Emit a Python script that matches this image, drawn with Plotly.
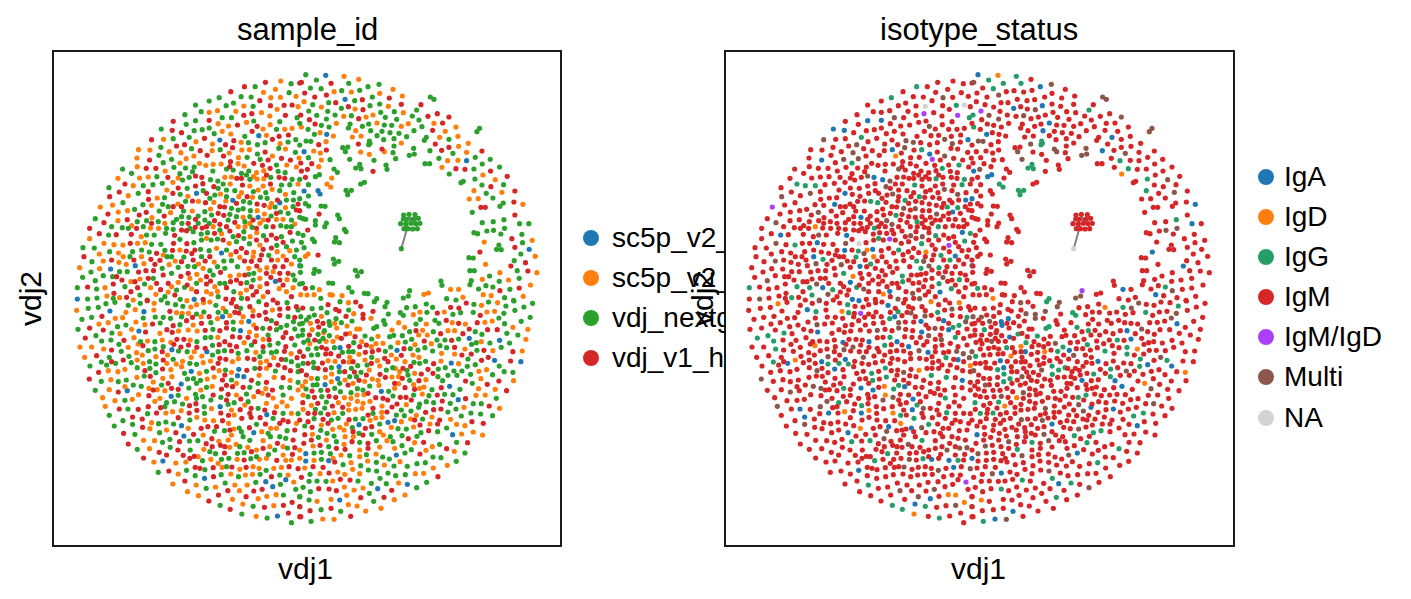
import numpy as np
import plotly.graph_objects as go

SAMPLES = ["sc5p_v2_hs_PBMC_10k_b", "sc5p_v2_hs_PBMC_1k_b", "vdj_nextgem_hs_pbmc3_b", "vdj_v1_hs_pbmc3_b"]
SAMPLE_COLORS = ["#1f77b4", "#ff7f0e", "#2ca02c", "#d62728"]
ISOTYPES = ["IgA", "IgD", "IgG", "IgM", "IgM/IgD", "Multi", "NA"]
ISOTYPE_COLORS = ["#1f77b4", "#ff7f0e", "#279e68", "#d62728", "#aa40fc", "#8c564b", "#d3d3d3"]

# Embedding values are grouped into four blocks; each entry is x, y, sample code
# (0-3 as in SAMPLES) with x and y in thirds of an embedding unit from the block origin.
upper_right = [
18,44,2,78,46,0,133,49,1,177,58,1,50,60,2,5,67,3,94,70,3,147,70,2,205,80,2,238,73,2,32,84,2,64,86,2,126,92,2,155,96,1,180,91,2,103,95,1,280,88,1,240,100,1,15,99,3,45,111,3,80,105,3,218,111,2,269,114,3,308,108,1,392,111,2,403,118,2,13,125,1,39,134,2,87,128,2,108,128,3,136,118,0,165,122,2,188,119,3,240,132,2,65,141,1,125,145,2,146,140,3,190,149,3,211,137,2,266,139,1,305,133,3,364,134,3,3,165,3,27,153,2,51,166,2,84,154,2,106,165,2,166,147,1,155,167,2,199,171,1,220,165,1,243,157,2,284,155,2,311,158,1,351,150,2,338,168,2,385,169,3,413,161,3,448,171,3,29,179,3,80,177,2,132,169,1,177,176,3,257,172,2,291,178,2,358,180,2,5,201,1,46,192,3,65,196,2,110,190,1,151,192,2,146,204,2,188,199,2,207,192,2,232,189,1,254,195,2,276,196,2,305,199,1,326,191,1,367,200,2,403,190,1,429,189,3,469,201,1,25,208,2,88,201,2,44,223,2,61,218,1,81,223,0,101,228,1,168,212,1,213,212,2,247,214,2,271,218,2,298,220,2,343,212,2,399,211,3,437,214,1,540,205,2,532,215,2,158,231,1,184,228,1,232,227,2,252,239,2,283,236,2,321,230,2,380,232,2,374,241,2,420,232,1,448,238,2,475,229,1,19,243,2,33,244,2,79,245,1,209,243,2,211,250,2,207,254,2,305,249,1,176,252,3,57,254,3,283,258,2,342,265,2,407,252,3,448,262,3,477,259,1,506,250,1,13,275,0,42,273,1,62,279,1,80,270,3,129,263,2,144,261,2,137,275,2,183,276,1,247,267,3,254,275,1,280,278,2,391,272,2,426,271,3,460,280,2,501,277,1,547,273,3,209,283,1,26,293,2,65,300,1,91,299,2,150,298,2,223,301,2,288,296,2,329,286,2,344,282,2,418,295,2,444,302,1,475,301,1,501,302,0,527,292,2,572,298,2,3,309,3,36,311,3,57,320,1,180,313,2,168,324,2,184,326,2,259,315,2,262,328,2,376,311,2,390,311,2,548,312,2,600,321,2,5,333,3,23,328,3,103,327,2,113,337,2,220,334,3,427,322,1,469,326,3,496,328,3,523,327,2,573,333,3,17,352,3,47,350,2,59,344,2,96,354,1,449,342,2,550,345,1,623,349,3,0,358,2,526,357,2,587,359,1,183,372,2,194,367,2,82,372,1,93,381,1,26,374,2,484,368,2,491,364,2,547,375,2,612,374,2,574,380,3,139,391,2,155,391,2,144,404,2,55,392,0,61,402,0,13,393,0,523,392,1,560,400,2,607,397,1,646,393,3,26,408,2,509,417,1,536,416,1,580,414,2,643,426,3,670,433,1,17,431,2,27,438,2,64,438,2,76,439,2,544,442,3,557,442,3,611,429,2,601,439,2,518,457,2,58,462,3,114,465,2,119,476,2,646,465,3,0,452,3,10,476,2,18,478,2,
312,465,2,328,463,2,346,464,2,356,475,2,340,478,2,322,478,2,311,477,2,303,491,2,319,492,2,334,490,2,348,491,2,361,490,2,313,506,2,325,506,2,339,507,2,353,506,2,305,566,2,
47,482,2,47,495,2,80,489,2,75,500,2,548,488,2,581,485,2,613,479,2,660,491,2,688,491,2,134,508,2,139,515,2,562,513,2,582,511,2,615,505,2,24,510,3,10,526,2,523,518,2,534,521,2,604,522,2,667,523,2,108,533,2,38,537,2,44,545,2,104,546,2,119,548,2,554,546,1,637,536,3,698,541,1,669,548,2,5,547,2,13,563,2,591,568,2,598,555,2,605,569,2,646,562,3,689,568,0,541,576,3,664,582,2,17,589,1,25,582,1,55,585,3,707,589,1,508,593,2,521,594,2,101,597,2,117,604,2,104,612,2,644,602,2,558,613,1,678,608,3,634,618,3,3,618,2,45,628,2,58,634,2,42,640,2,167,631,2,185,635,2,173,648,2,511,632,2,524,632,2,601,638,1,653,632,2,685,633,3,712,638,1,2,637,2,570,648,2,548,658,1,627,660,1,424,663,2,427,676,2,515,662,2,511,674,2,599,664,2,659,655,2,87,669,2,99,670,2,8,670,2,559,677,2,580,681,2,693,675,1,17,685,3,38,683,2,147,683,2,157,696,2,453,688,1,477,688,1,537,687,2,601,692,3,631,688,2,659,684,3,59,689,1,330,692,2,194,700,2,205,701,2,91,704,1,98,705,1,127,707,1,3,704,1,22,705,1,43,704,1,386,699,1,373,703,1,326,708,2,311,714,2,490,712,1,551,704,1,575,707,1,615,713,2,671,709,1,63,715,2,231,716,2,441,716,2,642,721,2,469,720,2,
]

upper_left = [
693,63,1,647,67,3,724,71,2,750,69,3,584,80,3,616,80,2,677,88,1,543,95,3,641,97,1,718,98,2,574,110,2,604,111,2,663,113,1,692,112,1,739,109,1,508,113,2,478,123,2,630,122,3,551,129,2,529,137,2,437,135,2,582,138,1,610,139,2,662,137,3,703,136,3,727,135,3,745,140,1,454,155,2,478,157,1,503,152,1,558,154,1,682,148,1,606,161,3,635,158,1,660,168,1,707,166,3,742,173,2,405,164,2,517,173,2,545,173,2,582,166,3,
370,184,3,437,182,2,478,181,3,409,193,2,505,191,1,536,198,1,563,195,3,590,187,1,612,183,2,661,194,1,690,185,2,727,205,1,750,190,2,334,207,2,367,211,3,395,218,3,433,212,2,457,209,2,478,204,2,517,214,1,543,222,1,585,229,2,607,214,3,622,199,3,640,207,1,680,208,2,705,208,1,627,227,0,650,226,1,668,238,3,688,229,3,716,225,3,738,239,2,493,221,2,305,239,3,341,238,1,370,236,2,418,232,2,438,245,1,464,235,3,510,240,0,552,242,3,574,247,1,596,248,2,623,254,2,646,248,2,691,251,1,715,246,2,750,255,2,404,254,3,380,258,3,333,262,2,527,254,3,488,252,1,
266,269,1,300,270,1,358,275,1,393,278,1,425,266,2,451,272,3,487,272,1,511,269,2,538,279,1,548,263,3,576,270,1,599,269,1,623,282,2,646,276,3,668,288,1,687,265,2,707,267,1,737,277,2,261,294,1,327,286,2,299,300,3,365,298,2,409,296,1,432,288,1,472,286,3,521,288,3,542,305,3,566,293,1,592,292,2,612,310,3,631,298,2,655,300,3,695,295,3,722,300,3,748,294,1,262,320,1,340,308,2,390,309,1,218,327,2,289,325,3,318,325,3,372,322,2,407,324,2,433,321,2,449,310,1,468,316,1,490,313,1,514,312,1,540,320,3,565,311,1,583,318,1,638,316,3,661,325,3,680,315,2,711,315,1,740,321,1,245,340,2,346,333,1,390,341,2,428,335,2,489,333,2,530,327,2,550,330,2,575,340,2,597,333,2,620,338,1,642,332,1,685,334,2,706,338,2,
204,355,1,269,354,1,295,351,1,321,350,2,354,352,3,385,354,1,418,352,2,437,348,3,456,352,3,482,359,2,504,363,2,525,352,1,545,351,1,561,355,3,590,345,2,642,356,1,663,352,2,688,352,3,727,358,2,225,372,3,250,377,1,280,377,2,309,374,2,337,370,2,369,367,1,398,360,2,412,385,2,437,378,3,459,371,3,492,380,3,520,372,2,541,372,1,578,375,3,600,378,1,622,357,1,640,378,1,662,372,3,695,375,2,720,374,2,745,372,1,177,383,2,208,396,3,265,400,2,295,395,3,351,390,1,385,384,3,440,400,0,460,392,2,512,402,1,530,390,2,555,392,2,575,398,1,611,395,2,625,390,1,648,398,2,667,388,1,690,392,2,707,403,1,732,398,2,
179,410,3,235,407,1,296,418,3,322,414,1,344,413,2,369,400,3,391,403,2,414,409,1,467,428,3,480,415,2,549,421,0,567,410,1,592,410,3,608,412,1,632,412,2,652,415,2,683,420,3,690,428,0,710,420,2,731,420,2,750,416,2,219,428,2,188,435,1,254,448,2,279,434,2,305,436,1,338,433,2,384,432,1,407,424,2,428,423,3,446,424,1,492,427,1,528,423,1,510,440,3,581,424,2,600,428,2,622,432,3,643,436,3,665,430,1,676,441,2,707,443,1,730,440,2,151,441,1,174,462,3,205,456,1,233,452,1,268,465,3,289,457,3,328,453,2,355,440,2,362,458,1,401,453,2,427,453,1,445,468,2,465,455,2,482,447,1,524,441,3,545,445,2,565,450,2,580,446,2,602,452,2,622,452,1,644,462,1,660,442,1,692,456,2,715,460,2,740,450,3,
136,476,2,162,488,3,204,482,1,232,479,3,262,485,2,306,473,1,343,468,3,380,478,2,417,472,2,395,470,2,437,478,3,465,480,2,494,482,3,522,466,3,540,463,2,560,470,2,580,472,1,600,470,2,625,472,0,664,468,2,680,478,1,700,478,1,725,480,2,750,472,2,119,505,3,185,500,2,217,503,2,245,497,1,290,482,2,302,504,1,326,505,1,350,505,2,370,488,2,396,490,2,415,490,3,436,502,3,457,504,3,478,490,2,510,493,3,530,500,3,565,500,1,586,500,1,607,502,2,630,490,1,649,500,2,670,500,3,693,497,2,710,500,2,735,492,1,148,521,3,176,525,2,199,524,3,244,523,3,274,530,1,290,525,2,313,525,2,347,520,2,374,526,3,410,512,3,430,515,2,454,522,2,473,518,2,494,520,3,515,521,1,540,513,3,566,527,3,582,515,2,601,530,1,621,518,1,641,527,2,665,525,3,695,530,2,721,517,3,745,520,2,
119,536,1,162,550,1,192,554,1,219,555,1,241,550,3,263,550,1,286,548,1,305,553,2,333,553,2,371,550,3,390,538,2,411,551,3,432,548,2,455,540,2,484,540,2,503,537,2,538,550,1,560,545,2,582,535,2,599,551,2,620,540,3,650,540,3,665,564,3,681,556,2,700,547,3,728,543,2,99,563,2,133,564,2,179,575,2,206,579,1,248,575,2,275,570,2,298,576,2,320,580,3,345,571,2,368,571,3,390,570,1,409,573,3,426,581,3,452,568,2,478,572,2,530,570,2,559,575,3,575,565,3,590,578,3,612,576,1,640,568,3,657,586,2,682,575,1,720,572,1,740,570,2,
102,590,3,148,582,1,185,600,3,207,607,1,229,613,1,275,590,1,252,600,3,303,598,3,330,601,3,352,590,2,376,603,1,402,591,2,430,600,3,446,612,1,466,603,3,493,606,1,515,579,0,543,584,1,522,603,2,545,602,2,570,592,1,584,603,3,605,604,3,630,600,3,684,600,1,700,588,1,725,612,1,750,600,2,126,605,2,160,603,1,89,623,1,149,626,1,182,627,0,209,635,2,232,635,2,256,617,0,282,611,1,315,613,3,337,625,2,358,614,1,385,622,2,414,619,2,434,620,2,460,625,1,480,632,2,503,620,2,525,625,2,563,620,2,597,625,1,621,618,3,651,623,1,675,620,3,700,620,3,750,617,0,
123,636,2,98,652,2,160,647,2,188,650,2,216,660,3,266,636,3,288,632,3,311,632,3,340,645,3,365,640,2,393,649,3,420,655,1,441,643,1,470,650,3,490,645,2,512,637,3,541,648,1,568,645,1,597,643,2,612,640,2,630,655,1,663,652,3,690,640,3,712,659,1,730,645,2,136,662,2,82,683,2,113,681,3,140,687,2,165,683,1,190,672,3,243,665,1,270,657,1,295,655,3,284,672,2,320,670,3,355,670,3,385,667,1,404,682,2,425,687,1,452,660,1,482,663,3,510,670,2,542,665,3,573,670,3,591,668,2,651,671,3,677,664,0,700,675,3,730,683,1,750,672,2,
192,700,3,243,695,3,263,683,3,302,683,1,332,689,3,355,696,1,380,690,2,412,675,3,440,695,3,470,695,1,503,694,1,530,683,3,552,695,2,572,700,1,590,690,1,620,695,3,654,696,3,688,686,1,710,695,1,82,717,0,113,717,2,141,714,2,171,708,1,209,713,1,230,712,3,270,705,2,292,720,2,318,703,1,345,710,2,391,718,2,433,718,0,411,722,1,460,718,3,484,702,1,528,717,3,550,718,3,593,716,3,670,720,3,725,710,3,
]

lower_left = [
115,25,2,145,22,2,168,11,2,195,7,2,235,16,2,271,10,2,292,2,3,313,10,1,334,0,2,353,9,2,377,14,2,399,19,2,423,21,1,440,14,1,461,8,1,480,6,1,498,16,2,520,25,1,545,9,3,572,25,2,600,20,3,627,5,2,650,14,3,683,9,3,712,8,2,740,20,3,80,31,1,180,33,0,228,37,1,256,29,1,282,35,0,312,30,1,360,34,3,380,38,1,397,40,1,416,40,1,440,42,2,462,36,2,505,37,2,528,35,2,555,37,3,610,32,1,647,37,3,668,30,1,690,27,3,715,25,3,745,30,2,
96,58,2,125,52,2,156,49,3,196,55,1,218,53,1,280,54,2,316,51,2,340,52,2,362,55,2,395,50,2,410,62,3,428,52,3,454,50,1,478,50,3,503,56,1,518,50,0,540,47,1,567,39,3,609,48,3,628,46,3,650,57,3,690,46,3,715,50,2,735,52,3,147,72,1,175,68,1,203,80,2,228,75,2,258,66,1,285,74,1,308,72,3,331,69,2,370,77,3,390,74,2,430,75,1,455,70,3,483,68,2,530,68,3,550,66,2,575,66,1,597,64,0,612,75,1,639,85,2,665,62,2,693,82,2,711,76,2,731,65,2,750,72,2,
84,88,2,119,84,3,160,90,3,186,99,2,210,101,1,245,88,1,267,93,0,287,96,3,330,100,1,351,89,3,367,97,3,386,93,1,415,90,1,442,93,1,466,91,3,489,88,2,510,92,3,530,84,3,551,88,2,572,92,0,599,96,1,620,107,1,655,105,2,680,89,2,708,98,3,735,87,2,106,114,3,138,107,2,155,123,2,183,120,2,222,121,3,252,113,1,272,125,2,293,123,1,315,125,2,337,120,1,363,127,1,381,118,3,402,118,3,421,120,1,441,125,2,466,113,2,483,112,2,504,112,1,525,125,3,548,110,3,570,112,3,595,112,3,640,118,1,658,119,3,700,112,3,725,115,3,745,108,2,
90,141,1,125,141,1,161,147,1,185,150,3,207,133,2,235,142,1,265,132,1,279,137,3,315,147,2,340,140,2,372,133,3,393,141,3,416,135,3,441,142,3,466,145,3,488,136,2,508,134,3,540,135,3,560,140,3,583,128,1,605,135,2,685,130,2,708,140,3,735,135,2,104,172,1,140,167,3,178,172,2,214,154,2,237,169,2,260,158,1,277,165,1,295,152,2,318,170,1,337,155,3,353,165,1,366,149,0,386,153,2,412,155,2,433,155,1,456,168,1,471,155,0,488,165,2,524,152,2,545,153,3,565,160,2,591,152,2,618,157,1,640,155,2,665,158,2,704,154,3,724,161,1,742,173,3,
154,186,2,120,198,2,197,190,2,244,188,2,225,208,1,262,203,2,299,185,2,318,192,2,351,190,1,379,192,1,398,184,1,424,172,1,440,193,2,460,188,1,482,183,1,510,175,3,528,178,3,548,185,1,566,176,1,593,175,3,613,178,3,632,188,1,650,183,1,672,173,1,695,178,3,708,179,2,745,197,2,175,212,1,146,217,3,204,215,1,285,212,3,318,218,2,338,207,3,363,209,1,404,220,2,424,214,0,449,220,1,470,214,2,490,204,3,508,212,1,527,210,2,545,217,1,567,208,0,591,211,3,615,205,2,650,205,1,677,213,2,705,203,3,722,212,3,745,215,2,
118,237,3,154,244,2,183,239,1,229,240,2,261,232,1,283,228,2,301,229,3,310,246,1,339,235,1,366,230,1,394,252,0,413,237,2,431,236,2,452,241,2,472,237,1,493,231,1,518,240,3,563,227,0,582,230,0,605,241,3,628,226,1,650,247,3,673,232,1,700,233,3,721,241,1,745,247,2,136,271,2,178,269,1,205,276,3,232,272,0,274,259,2,297,265,1,322,269,1,345,272,1,365,265,3,385,268,3,417,264,2,453,270,1,470,262,2,487,259,1,515,267,3,530,256,3,548,260,3,580,262,3,600,262,2,648,266,1,668,270,3,695,262,2,720,263,2,745,270,1,
158,293,1,195,302,1,225,301,2,247,298,1,266,284,1,297,287,3,330,295,1,364,289,0,385,286,2,437,283,2,483,300,2,458,290,2,513,292,2,535,283,3,560,285,1,573,297,3,590,282,2,612,290,1,637,280,1,670,294,1,700,285,2,725,295,1,166,319,1,208,327,3,234,327,2,265,328,3,295,320,3,315,304,1,332,323,3,350,308,2,374,305,2,398,312,2,419,317,3,438,311,3,463,320,2,511,320,0,535,313,2,553,308,2,585,315,1,604,325,3,650,310,1,697,306,1,712,318,1,
178,346,2,248,351,3,277,357,3,293,341,2,320,339,3,348,339,1,368,335,1,394,332,1,418,339,3,441,331,3,464,340,2,485,326,1,513,339,3,536,346,3,553,345,1,576,355,3,571,329,3,604,352,3,631,353,3,651,344,0,674,338,3,700,340,2,725,340,1,745,341,2,219,362,2,193,378,2,248,373,2,305,368,1,326,371,2,348,366,2,385,353,3,371,372,2,395,377,0,415,385,1,441,352,1,454,385,3,474,380,3,491,362,1,518,362,3,536,370,1,552,387,1,568,384,2,599,383,3,620,373,2,647,372,3,663,385,1,690,370,3,715,365,3,740,370,1,
221,400,3,255,403,2,278,382,3,300,386,1,329,398,2,350,390,1,378,398,3,402,408,0,431,403,3,460,405,1,494,394,2,524,392,2,545,405,1,575,395,2,612,398,0,636,395,1,655,400,2,680,385,1,712,392,2,735,390,3,235,432,3,281,421,1,314,422,1,338,427,2,360,418,2,389,425,3,419,423,2,444,422,2,469,431,3,486,416,3,507,424,1,535,420,1,559,433,1,580,410,2,600,421,2,640,422,1,662,410,2,683,430,3,708,415,2,713,444,2,735,443,3,
262,448,2,299,446,1,328,457,3,361,442,2,384,450,3,421,450,2,462,448,1,487,440,3,512,436,3,524,459,3,540,442,1,563,460,2,583,458,2,594,442,1,620,450,1,656,463,2,675,450,2,700,465,1,728,463,3,750,475,1,281,474,3,312,486,1,339,483,0,378,489,1,400,466,3,408,486,1,433,469,3,458,482,2,483,478,1,497,461,2,515,478,2,537,475,2,562,478,1,583,480,3,603,476,2,629,478,1,650,475,1,681,481,3,708,481,1,725,480,1,
325,517,2,357,513,3,385,522,1,410,511,2,436,502,3,465,509,2,490,503,3,517,502,1,546,501,3,570,508,1,589,502,3,610,500,1,628,505,1,649,511,2,672,505,1,695,502,1,718,500,3,745,506,3,436,527,2,464,535,0,491,530,3,514,524,2,543,522,1,566,530,2,587,525,1,608,523,1,631,523,2,665,530,3,690,525,2,715,525,1,369,552,1,405,543,3,439,555,1,469,565,2,497,561,1,526,549,2,555,555,1,592,555,1,618,547,2,648,545,0,669,560,0,692,553,2,708,539,0,732,546,1,738,568,2,
413,575,1,446,587,1,534,572,3,506,585,3,569,572,1,612,573,3,637,568,3,589,590,3,679,584,1,701,585,2,727,607,3,750,590,2,477,603,3,548,598,1,625,596,1,651,589,1,579,612,1,511,616,2,610,619,2,644,622,3,672,617,1,701,616,3,750,620,3,541,628,3,576,642,2,619,649,1,652,654,2,683,648,0,716,639,3,750,650,3,725,668,2,
]

lower_right = [
9,24,3,37,26,2,64,24,2,85,14,3,121,5,2,146,8,1,168,6,3,183,19,3,224,5,2,262,7,2,256,20,2,321,23,2,347,20,2,380,12,2,399,22,2,453,22,3,478,24,3,500,9,3,523,13,2,546,16,1,567,6,2,594,8,1,619,18,2,673,21,2,699,10,2,643,3,2,3,50,2,28,51,2,44,45,2,65,49,1,82,38,2,108,28,3,118,33,3,147,30,2,162,41,1,190,43,3,190,55,3,220,34,3,266,42,2,302,38,2,311,46,2,341,44,1,361,36,1,382,37,2,413,39,3,434,36,1,460,43,2,483,38,2,521,37,2,542,46,3,562,36,1,585,34,1,613,40,2,646,31,2,598,54,2,692,52,2,
8,70,2,32,70,1,53,64,3,88,65,2,90,76,2,109,56,2,125,68,2,139,49,3,157,63,2,214,55,1,252,62,2,256,73,2,297,68,1,349,72,2,362,58,2,380,72,1,406,61,2,418,70,2,440,61,3,458,68,1,477,70,3,497,72,1,533,68,3,556,67,1,578,63,1,615,71,2,640,82,1,665,64,2,9,90,2,37,89,1,57,81,3,74,92,2,142,78,1,111,84,1,171,87,1,180,87,1,231,80,2,222,85,2,277,90,1,315,82,1,330,95,2,349,92,3,369,91,1,401,95,2,423,101,3,445,92,1,465,92,1,490,101,3,509,87,3,527,95,2,547,103,2,564,89,3,593,89,3,622,100,2,655,105,2,685,88,1,
8,105,2,29,105,3,55,103,2,72,98,1,89,107,2,113,111,1,138,102,3,166,110,3,196,108,2,235,109,1,270,110,2,282,106,2,308,107,2,336,118,2,357,105,1,383,105,1,412,120,2,436,120,2,456,121,3,477,117,2,509,115,0,530,128,2,545,125,1,571,129,2,600,121,0,630,129,2,679,118,1,12,127,2,30,131,1,59,124,2,79,124,1,100,124,1,121,143,0,147,139,3,162,128,2,186,125,1,216,117,2,229,131,1,250,130,1,295,128,1,317,126,2,374,123,3,395,131,1,346,134,1,421,137,2,441,143,2,465,142,3,496,147,1,516,133,2,
0,155,3,25,147,2,50,145,2,66,142,3,80,147,3,104,143,2,147,155,2,160,155,2,197,157,3,218,155,3,237,150,3,257,154,2,273,141,2,292,151,0,313,146,3,332,146,2,355,150,2,376,143,2,399,153,2,426,160,1,465,162,1,487,165,3,515,162,3,532,151,2,553,151,3,580,152,1,605,142,2,640,155,3,668,153,1,11,169,3,35,165,2,54,164,2,78,162,3,93,161,3,117,168,3,128,157,2,150,172,1,178,163,1,216,172,2,196,180,1,233,182,1,265,185,3,290,177,1,305,166,3,316,185,1,343,187,2,358,172,1,378,184,2,402,191,3,424,183,1,455,189,0,477,191,1,505,177,2,527,194,2,546,181,3,566,172,3,585,181,0,633,183,3,664,185,0,
41,187,2,68,189,3,85,182,1,106,184,1,131,185,3,148,186,1,174,197,2,202,195,2,240,198,1,287,205,1,333,199,3,360,190,2,416,207,2,437,203,2,463,213,2,487,213,2,503,199,2,538,214,1,561,209,1,599,198,2,614,215,2,640,217,2,5,212,3,42,203,2,77,209,3,95,203,2,118,200,0,155,205,2,184,217,2,209,210,1,260,210,2,279,203,2,300,215,1,322,211,2,345,220,1,365,222,3,385,208,3,415,230,2,445,226,2,472,226,2,513,223,2,579,224,2,
17,245,1,35,235,1,53,236,2,77,232,1,96,222,1,114,236,0,119,215,2,150,230,2,164,216,3,178,241,3,195,244,1,218,237,1,241,223,3,257,232,3,277,231,1,297,230,1,308,235,3,330,241,2,358,242,3,379,239,1,429,242,2,498,243,3,544,236,1,598,243,3,642,242,1,8,258,1,19,267,2,37,273,3,52,254,2,76,254,0,95,245,1,120,250,2,136,240,1,154,278,2,173,266,2,190,270,2,210,258,2,235,241,1,238,256,1,267,274,2,297,251,1,316,263,3,342,254,1,373,261,1,397,269,2,425,263,3,450,259,0,481,268,2,518,250,2,537,266,1,563,253,3,587,268,1,621,272,3,
10,285,1,44,292,3,63,271,2,66,290,2,84,271,3,88,289,3,108,292,3,122,275,2,134,293,1,154,295,1,172,285,1,193,284,1,228,293,3,245,274,0,280,288,2,302,292,3,319,292,3,342,285,2,368,282,1,388,287,2,413,285,3,435,283,2,460,284,2,476,299,0,498,296,3,529,286,1,557,285,1,590,295,2,9,308,3,35,316,1,54,310,3,80,306,2,98,318,3,116,308,1,129,322,3,147,313,1,173,304,1,211,304,1,220,325,3,247,318,1,264,300,3,292,312,3,320,314,1,277,321,3,360,312,2,402,308,2,428,303,3,452,310,2,521,311,2,545,311,2,569,318,3,600,325,1,
10,328,1,25,340,3,47,328,2,63,339,2,75,324,2,85,343,3,103,338,1,129,340,2,147,330,1,168,328,1,187,325,1,220,340,2,246,337,1,262,336,3,305,330,2,334,333,2,350,346,1,357,322,2,378,337,3,402,329,3,424,327,3,445,336,2,469,327,2,493,322,1,514,339,2,543,342,2,579,347,2,0,360,3,43,356,2,70,358,3,95,360,2,115,355,2,148,359,3,167,357,2,190,356,2,211,361,1,228,354,1,247,352,1,265,367,0,285,362,0,314,347,2,333,357,1,369,357,2,397,351,1,453,358,1,485,348,2,517,365,3,551,370,3,
15,378,2,37,382,3,63,391,2,99,388,1,120,382,1,140,372,1,158,383,2,178,374,0,197,385,3,216,380,3,240,372,2,275,382,1,295,386,2,320,387,2,342,381,1,361,375,3,391,372,1,414,372,3,441,384,2,471,373,1,496,377,1,521,396,1,15,404,3,38,403,1,56,412,2,82,400,2,103,408,2,133,390,1,136,410,1,161,410,1,178,400,2,216,403,2,251,405,1,272,410,2,307,407,2,326,416,3,352,409,2,364,398,2,387,392,3,414,395,2,459,404,0,486,402,1,549,405,1,
12,430,3,40,438,1,61,436,3,87,440,2,110,445,3,133,433,1,157,425,3,180,427,2,205,430,3,230,422,2,240,441,1,262,422,1,285,445,1,307,437,2,345,428,1,372,427,3,398,440,1,420,433,2,441,446,3,471,427,2,504,428,3,0,450,1,18,461,0,43,459,2,65,457,2,92,461,2,124,465,1,136,448,3,150,467,2,180,450,1,200,464,2,229,462,1,249,471,2,269,477,2,290,465,0,316,459,2,335,449,2,361,462,3,379,451,1,400,471,2,424,473,2,464,454,1,496,459,2,
18,483,0,43,481,1,65,478,2,87,482,0,105,486,3,130,494,2,154,488,1,183,497,2,204,483,1,230,487,2,254,495,1,283,498,2,301,485,1,323,499,2,352,491,2,377,488,2,443,496,1,470,484,2,5,532,3,15,504,1,31,523,2,70,502,3,61,521,1,88,519,3,114,516,1,135,523,1,159,508,1,180,521,1,206,510,2,231,513,2,265,519,2,288,527,2,317,524,2,347,521,1,372,520,1,401,504,1,415,530,3,
28,544,2,52,543,2,79,544,2,99,543,1,122,538,3,151,540,3,175,543,2,215,550,2,241,535,2,260,551,2,297,549,1,323,553,0,351,563,2,381,547,2,10,562,2,32,575,2,57,566,3,88,567,3,110,572,3,141,586,1,134,561,1,163,570,1,190,564,1,209,580,2,234,566,0,276,571,3,316,585,1,0,590,2,28,600,2,52,604,1,94,598,1,120,600,0,183,593,3,222,604,2,253,592,3,284,599,1,0,620,2,31,632,3,64,629,2,94,625,3,123,634,2,146,614,1,172,618,1,198,633,1,244,625,1,3,650,3,34,664,2,69,657,1,103,658,1,153,649,3,
]

# Further cells from the densest part of the embedding; entries that coincide with a listed cell are skipped.
upper_left_dense = [
575,355,3,600,358,2,611,350,1,650,345,3,705,355,3,745,350,3,470,375,1,505,385,2,530,410,2,560,430,3,520,405,3,495,405,2,470,400,3,412,432,2,370,440,3,395,440,3,505,460,3,485,465,2,600,490,1,620,505,3,655,480,3,680,460,3,700,440,2,720,440,2,745,432,3,725,500,2,660,515,2,640,480,1,610,480,3,585,485,2,555,487,3,535,480,2,510,510,2,490,500,1,470,500,3,445,490,2,420,505,2,395,510,3,370,508,2,345,490,1,325,485,2,305,490,3,280,500,2,260,505,3,235,505,2,
445,540,3,470,535,1,520,540,3,550,530,2,605,555,3,630,555,1,660,545,2,680,535,3,710,560,2,745,545,3,435,570,3,500,565,1,520,585,2,560,595,3,610,590,1,635,585,3,665,600,3,710,600,3,735,590,2,480,590,3,455,590,2,420,600,1,395,605,3,365,590,2,340,585,1,290,610,2,265,615,3,240,590,2,220,590,1,
505,640,3,530,645,2,585,645,3,650,640,3,670,635,1,715,640,3,745,625,3,735,660,2,690,660,3,630,630,1,610,660,2,585,665,1,560,660,3,525,670,2,495,680,1,470,672,3,440,670,2,415,640,3,395,680,3,365,680,1,345,690,3,310,655,2,255,665,3,225,680,2,200,650,3,630,680,1,605,680,3,570,690,3,640,710,1,610,705,3,575,715,2,505,710,2,440,720,1,375,705,3,250,720,1,190,715,2,
]
lower_left_dense = [
560,20,3,620,30,3,580,50,1,600,70,3,640,60,2,620,85,3,660,85,3,680,70,3,720,65,1,590,115,1,615,125,3,640,140,3,660,135,2,610,175,3,630,170,2,660,195,3,685,195,3,725,185,2,630,205,3,680,155,2,570,150,3,530,150,1,505,155,2,505,190,3,420,190,2,395,200,1,370,178,2,340,180,3,280,190,1,300,205,2,262,180,1,220,180,3,185,185,3,170,195,2,545,240,2,525,225,3,625,250,2,610,265,3,625,275,3,655,285,3,575,265,2,560,250,1,440,250,2,400,262,3,335,255,2,355,250,3,310,270,3,250,255,2,225,260,1,205,245,2,
490,285,3,510,315,1,530,300,3,545,330,1,595,305,2,625,325,2,645,330,3,680,320,1,670,355,2,700,360,3,720,345,1,600,340,3,440,295,2,410,295,1,345,320,2,375,350,3,420,360,2,465,360,1,500,380,3,540,390,3,590,405,1,620,395,3,660,350,2,640,400,3,690,410,2,730,420,3,700,440,1,660,440,1,620,470,2,640,445,3,605,455,3,570,440,2,525,440,3,455,425,2,410,430,2,370,420,1,350,465,3,445,470,1,480,455,2,505,490,1,600,495,1,530,500,2,420,475,3,450,505,3,
]
lower_right_dense = [
20,60,2,40,75,3,70,70,3,105,70,1,140,95,2,12,85,2,25,120,2,45,120,3,70,115,2,90,125,3,125,115,3,150,100,1,180,140,3,200,135,3,215,140,1,235,130,2,150,130,3,30,150,3,65,165,3,100,175,1,120,190,3,160,185,3,190,170,2,215,190,3,255,175,3,275,165,1,310,205,3,340,165,1,25,190,3,10,190,2,55,205,3,30,225,2,95,235,3,75,220,2,135,215,3,170,230,2,200,225,3,225,245,3,265,240,2,285,250,3,325,225,2,400,220,3,20,225,3,60,230,2,40,255,2,75,272,1,105,265,2,145,255,3,160,250,1,185,250,3,260,265,3,285,265,1,345,268,3,360,265,1,55,275,2,25,290,2,205,280,3,250,295,3,335,300,3,380,305,2,190,310,1,150,335,3,125,360,2,95,340,3,45,340,3,25,365,3,65,375,1,85,370,3,175,330,3,205,345,3,230,335,1,290,345,2,305,365,1,420,360,3,345,360,3,240,395,1,190,405,3,160,395,3,105,385,1,80,420,1,35,420,3,110,425,2,180,380,1,280,425,2,300,410,3,325,395,3,205,445,3,180,470,1,100,475,1,40,500,3,
]

# Cells carrying an isotype other than IgM, per block, as x, y pairs.
upper_left_isotypes = {
"IgG": [584,80,508,113,703,136,742,173,418,232,599,269,390,309,226,371,250,377,280,377,661,325,711,315,642,356,727,358,578,375,720,374,592,410,549,421,446,424,467,428,676,441,707,443,517,462,589,481,649,500,457,504,468,540,641,527,599,551,715,537,219,555,303,598,409,573,402,591,530,570,446,612,657,586,684,600,584,603,357,635,597,625,651,623,541,648,542,665,651,671,712,659,263,683,332,689,403,682,220,685,82,683,688,686,270,705,210,713],
"IgA": [437,182,478,181,334,207,367,211,737,239,511,269,623,282,299,300,457,351,482,359,369,400,338,433,731,420,692,456,417,472,176,524,374,526,721,517,286,548,368,571,452,568,275,590,700,588,414,619,385,667,302,683,503,694,654,696,391,718,411,722,750,416,750,617],
"IgD": [521,288,275,507,433,562,445,593,612,576,393,649,484,702],
"IgM/IgD": [606,161,707,166,631,298,151,441,503,537,681,556],
"Multi": [663,113,517,173,622,199,305,239,552,242,574,247,668,238,691,251,393,278,404,254,548,263,668,288,365,298,409,296,530,327,437,348,504,363,492,380,265,400,512,402,667,388,707,403,179,410,580,446,544,445,289,457,644,462,162,488,494,482,510,493,565,527,601,530,290,525,162,550,371,550,426,581,161,603,282,611,358,614,605,604,621,618,136,662,284,672,425,687,663,652,113,717,292,720,318,703,572,700,593,716,528,717],
"NA": [610,139,727,135,411,551],
}
upper_right_isotypes = {
"IgA": [18,44,205,80,125,145,211,137,232,189,213,212,44,223,420,232,391,272,47,350,59,344,670,433,660,491,541,576,634,618,453,688,550,704,0,333,0,416,0,617],
"IgD": [79,46,449,342,63,715],
"IgG": [133,49,50,60,94,70,147,70,64,86,351,150,3,165,5,201,209,243,211,250,207,254,180,313,168,324,184,326,444,302,469,326,526,357,523,392,82,372,93,381,139,391,155,391,144,404,613,479,0,507,17,685,580,681,231,716],
"IgM/IgD": [27,153,331,692],
"Multi": [5,67,238,73,80,105,392,111,403,118,155,167,190,149,51,166,80,177,448,171,540,205,532,215,19,243,33,244,176,252,248,267,254,275,343,265,344,282,330,286,138,275,150,298,460,280,23,328,587,359,607,397,615,505,582,511,602,692,311,714,326,708],
"NA": [305,566],
}
lower_left_isotypes = {
"IgD": [168,11,360,34,279,137,216,181,591,211,487,259,494,278,368,335,441,331,513,339,415,385,536,370,627,5,699,9,679,584,701,585,727,607,576,642,745,197],
"IgG": [294,21,377,15,380,38,528,35,503,56,647,37,735,52,693,82,711,76,138,107,106,114,186,99,155,123,161,147,504,112,488,136,692,108,154,186,318,192,351,190,379,192,449,220,490,204,452,241,493,231,628,226,673,232,365,265,515,267,530,256,670,294,350,308,419,317,585,315,536,346,576,355,674,338,620,373,389,425,444,422,600,421,497,461,458,482,603,476,708,481,439,555,511,616,541,628,610,619,652,654,672,173,750,620],
"IgA": [410,3,495,13,256,29,518,50,597,64,665,62,680,89,599,96,287,96,363,127,441,125,525,125,559,130,618,157,371,174,708,179,197,190,299,185,338,207,721,241,417,264,453,270,548,260,573,297,571,329,418,339,234,327,320,339,249,351,505,379,568,384,378,398,629,478,681,481,695,502,410,511,625,596,579,612,750,475],
"IgM/IgD": [416,40,732,546],
"Multi": [688,30,567,39,609,48,285,74,530,68,530,84,466,91,731,65,639,85,620,107,658,119,393,141,366,149,591,152,704,154,724,161,742,173,315,170,424,172,285,212,545,217,118,237,274,259,297,265,205,276,483,300,513,292,315,304,604,325,295,320,166,319,248,373,494,394,599,383,486,416,559,433,683,442,713,444,735,443,562,478,546,501,649,511,745,506,534,572,637,568,589,590,701,616],
}
lower_right_isotypes = {
"IgD": [399,22,147,139,219,154,117,168,496,147,134,293,99,318,518,250,640,217,28,600],
"IgA": [109,56,88,65,90,76,113,111,465,92,489,127,160,155,292,151,85,182,93,200,378,184,527,194,599,198,330,241,429,242,450,259,357,322,424,327,240,372,496,377,15,404,333,474,88,519,260,551,123,634,69,657,0,474,615,71],
"IgG": [619,18,224,5,453,22,521,37,302,38,311,46,231,80,222,85,315,82,349,92,37,89,196,108,144,117,162,128,436,120,345,134,465,142,102,143,273,141,257,154,400,153,465,162,505,177,11,169,586,181,503,199,241,198,261,210,279,203,77,209,97,222,416,207,241,223,365,222,415,230,113,236,96,244,333,276,319,292,80,306,9,308,63,339,25,340,485,348,514,339,364,398,387,392,307,407,180,427,345,428,136,448,441,446,377,488,241,535,151,540,88,567,297,549,253,592,34,664,0,620],
"Multi": [146,8,262,7,256,20,162,41,190,43,190,55,220,34,478,24,500,9,613,40,598,54,509,87,53,64,28,51,3,50,59,124,250,130,0,155,305,166,566,172,12,203,463,213,225,209,150,230,36,253,537,266,154,278,88,289,545,311,320,314,334,333,220,325,211,361,148,359,320,387,216,403,231,423,40,439,103,421,18,461,150,467,290,465,231,513,61,521,351,563,103,658],
}

# Links of the clonotype networks inside the central gap, block coordinates, x0,y0,x1,y1.
network_links = [305,566,322,506, 322,506,319,492, 303,491,361,490, 312,465,319,492, 328,463,334,490, 346,464,348,491, 313,506,353,506, 311,477,356,475, 139,391,147,396, 155,391,147,396, 144,404,147,396, 180,313,177,320, 168,324,177,320, 184,326,177,320, 167,631,175,637, 185,635,175,637, 173,648,175,637, 101,597,108,604, 117,604,108,604, 104,612,108,604, 45,628,48,634, 58,634,48,634, 42,640,48,634, 108,533,110,543, 104,546,110,543, 119,548,110,543]

BLOCKS = [(upper_left, upper_left_dense, upper_left_isotypes, 50, 60),
          (upper_right, [], upper_right_isotypes, 300, 60),
          (lower_left, lower_left_dense, lower_left_isotypes, 50, 300),
          (lower_right, lower_right_dense, lower_right_isotypes, 300, 300)]

WIDTH, HEIGHT = 1411, 599
X_LIM = [54, 560.5]
Y_LIM = [545, 52]
MIN_GAP = 4.0


def to_units(v, origin):
    return origin + np.asarray(v, dtype=float) / 3


xs, ys, codes = [], [], []
for block, _, _, x0, y0 in BLOCKS:
    arr = np.array(block).reshape(-1, 3)
    xs.append(to_units(arr[:, 0], x0))
    ys.append(to_units(arr[:, 1], y0))
    codes.append(arr[:, 2])
vdj1 = np.concatenate(xs)
vdj2 = np.concatenate(ys)
sample_code = np.concatenate(codes)

# Add the denser cells, leaving out any that would sit on top of an existing one.
for _, dense, _, x0, y0 in BLOCKS:
    if not dense:
        continue
    for px, py, code in np.array(dense).reshape(-1, 3):
        ux, uy = to_units(px, x0), to_units(py, y0)
        if np.min((vdj1 - ux) ** 2 + (vdj2 - uy) ** 2) >= MIN_GAP ** 2:
            vdj1 = np.append(vdj1, ux)
            vdj2 = np.append(vdj2, uy)
            sample_code = np.append(sample_code, code)

isotype_code = np.full(len(vdj1), ISOTYPES.index("IgM"))

# Each isotype entry tags the closest cell in the shared embedding.
for _, _, isotype_lists, x0, y0 in BLOCKS:
    for name, flat in isotype_lists.items():
        for px, py in np.array(flat).reshape(-1, 2):
            d = (vdj1 - to_units(px, x0)) ** 2 + (vdj2 - to_units(py, y0)) ** 2
            isotype_code[int(np.argmin(d))] = ISOTYPES.index(name)

links = np.array(network_links).reshape(-1, 4)
link_x, link_y = [], []
for a, b, c, d in links:
    link_x += [to_units(a, 300), to_units(c, 300), None]
    link_y += [to_units(b, 60), to_units(d, 60), None]

fig = go.Figure()


def px_dom_x(a, b):
    return [a / WIDTH, b / WIDTH]


def px_dom_y(top, bottom):
    return [1 - bottom / HEIGHT, 1 - top / HEIGHT]


FRAME = dict(showline=True, mirror=True, linecolor="#1a1a1a", linewidth=1.7, showticklabels=False,
             ticks="", showgrid=False, zeroline=False)
HIDDEN = dict(visible=False, showgrid=False, zeroline=False)
LABEL_FONT = dict(family="Liberation Sans, Arial, sans-serif", size=28, color="black")

fig.update_layout(
    width=WIDTH, height=HEIGHT, margin=dict(l=0, r=0, t=0, b=0), autosize=False,
    paper_bgcolor="white", plot_bgcolor="white", showlegend=False,
    xaxis=dict(domain=px_dom_x(54, 560), range=X_LIM, **FRAME),
    yaxis=dict(domain=px_dom_y(52, 545), range=Y_LIM, anchor="x", **FRAME),
    xaxis2=dict(domain=px_dom_x(726, 1232.5), range=X_LIM, **FRAME),
    yaxis2=dict(domain=px_dom_y(52, 545), range=Y_LIM, anchor="x2", **FRAME),
    xaxis3=dict(domain=px_dom_x(561, 725), range=[561, 725], **HIDDEN),
    yaxis3=dict(domain=px_dom_y(52, 545), range=Y_LIM, anchor="x3", **HIDDEN),
    xaxis4=dict(domain=px_dom_x(1234, 1411), range=[1234, 1411], **HIDDEN),
    yaxis4=dict(domain=px_dom_y(52, 545), range=Y_LIM, anchor="x4", **HIDDEN),
)

for xa, ya in (("x", "y"), ("x2", "y2")):
    fig.add_trace(go.Scatter(x=link_x, y=link_y, mode="lines", xaxis=xa, yaxis=ya,
                             line=dict(color="#808080", width=2), hoverinfo="skip"))

for i, name in enumerate(SAMPLES):
    m = sample_code == i
    fig.add_trace(go.Scatter(x=vdj1[m], y=vdj2[m], mode="markers", name=name, xaxis="x", yaxis="y",
                             marker=dict(color=SAMPLE_COLORS[i], size=5.2, line=dict(width=0))))
for i, name in enumerate(ISOTYPES):
    m = isotype_code == i
    fig.add_trace(go.Scatter(x=vdj1[m], y=vdj2[m], mode="markers", name=name, xaxis="x2", yaxis="y2",
                             marker=dict(color=ISOTYPE_COLORS[i], size=5.2, line=dict(width=0))))

# Category keys sit in their own clipped axes so long names stop at the next frame.
key_rows = np.array([238, 278, 318, 358])
fig.add_trace(go.Scatter(x=[591] * 4, y=key_rows, mode="markers", xaxis="x3", yaxis="y3", hoverinfo="skip",
                         marker=dict(color=SAMPLE_COLORS, size=16, line=dict(width=0))))
fig.add_trace(go.Scatter(x=[612] * 4, y=key_rows + 1.5, mode="text", text=SAMPLES, textposition="middle right",
                         xaxis="x3", yaxis="y3", textfont=LABEL_FONT, cliponaxis=True, hoverinfo="skip"))
iso_rows = np.array([177, 217, 257, 297, 337, 377, 418])
fig.add_trace(go.Scatter(x=[1266] * 7, y=iso_rows, mode="markers", xaxis="x4", yaxis="y4", hoverinfo="skip",
                         marker=dict(color=ISOTYPE_COLORS, size=16, line=dict(width=0))))
fig.add_trace(go.Scatter(x=[1284] * 7, y=iso_rows + 1.5, mode="text", text=ISOTYPES, textposition="middle right",
                         xaxis="x4", yaxis="y4", textfont=LABEL_FONT, cliponaxis=False, hoverinfo="skip"))


def label(text, x_px, y_px, size, angle=0):
    fig.add_annotation(text=text, xref="paper", yref="paper", x=x_px / WIDTH, y=1 - y_px / HEIGHT,
                       xanchor="center", yanchor="middle", showarrow=False, textangle=angle,
                       font=dict(family=LABEL_FONT["family"], size=size, color="black"))


label("sample_id", 307.5, 29, 31)
label("isotype_status", 979, 29, 31)
label("vdj1", 305.5, 568, 30)
label("vdj1", 978.5, 568, 30)
label("vdj2", 30, 299, 30, -90)
label("vdj2", 702, 299, 30, -90)

fig.write_html("out.html")
